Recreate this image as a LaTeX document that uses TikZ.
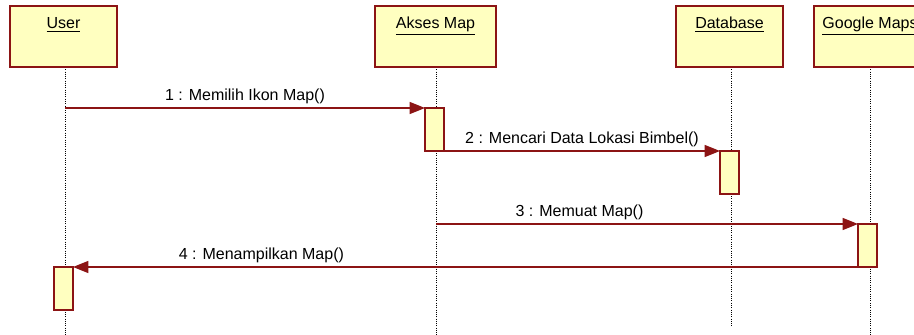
\documentclass[tikz,border=0pt]{standalone}
\usepackage{fontspec}
\setmainfont{Liberation Sans}
\usetikzlibrary{arrows.meta}
\definecolor{uborder}{RGB}{140,20,20}
\definecolor{ufill}{RGB}{255,255,192}
\tikzset{
  obj/.style={draw=uborder, fill=ufill, line width=0.9pt, minimum height=61*0.75pt, inner sep=0pt, outer sep=0pt},
  act/.style={draw=uborder, fill=ufill, line width=0.9pt, minimum width=19*0.75pt, minimum height=43*0.75pt, inner sep=0pt, outer sep=0pt},
  life/.style={densely dotted, line width=0.7pt, black},
  msg/.style={draw=uborder, line width=0.9pt, -{Triangle[length=11.5pt,width=9pt]}},
  lbl/.style={font=\fontsize{12}{14}\selectfont, inner sep=1pt},
  ttl/.style={font=\fontsize{12}{14}\selectfont, inner sep=0pt, anchor=base}
}
\begin{document}
\begin{tikzpicture}[x=0.75pt,y=-0.75pt]
\useasboundingbox (0,0) rectangle (914,335);
% lifelines
\coordinate (uTop) at (65,67); \coordinate (uBot) at (65,335);
\coordinate (aTop) at (436,67); \coordinate (aBot) at (436,335);
\coordinate (dTop) at (731,67); \coordinate (dBot) at (731,326);
\coordinate (gTop) at (870,67); \coordinate (gBot) at (870,335);
\draw[life] (uTop) -- (uBot);
\draw[life] (aTop) -- (aBot);
\draw[life] (dTop) -- (dBot);
\draw[life] (gTop) -- (gBot);
% objects
\node[obj, minimum width=107*0.75pt, anchor=north west] (user) at (10,6) {};
\node[ttl] (userT) at ([yshift=-23*0.75pt]user.north) {\underline{User}};
\node[obj, minimum width=121*0.75pt, anchor=north west] (akses) at (375,6) {};
\node[ttl] (aksesT) at ([yshift=-23*0.75pt]akses.north) {\underline{Akses Map}};
\node[obj, minimum width=107*0.75pt, anchor=north west] (db) at (676,6) {};
\node[ttl] (dbT) at ([yshift=-23*0.75pt]db.north) {\underline{Database}};
\node[obj, minimum width=112*0.75pt, anchor=north west] (gm) at (814,6) {};
\node[ttl] (gmT) at ([yshift=-23*0.75pt]gm.north) {\underline{Google Maps}};
% activations
\node[act, anchor=north] (aAct) at (434.5,108) {};
\node[act, anchor=north] (dAct) at (729.5,151) {};
\node[act, anchor=north] (gAct) at (867.5,224) {};
\node[act, anchor=north] (uAct) at (63.5,267) {};
% messages
\coordinate (m1s) at (65,108);
\draw[msg] (m1s) -- (aAct.north west) node[lbl, midway, above=2pt] (l1) {1 : Memilih Ikon Map()};
\draw[msg] (aAct.south east) -- (dAct.north west) node[lbl, midway, above=2pt] (l2) {2 : Mencari Data Lokasi Bimbel()};
\coordinate (m3s) at (436,224);
\draw[msg] (m3s) -- (gAct.north west) node[lbl, pos=0.34, above=2pt] (l3) {3 : Memuat Map()};
\draw[msg] (gAct.south west) -- (uAct.north east) node[lbl, pos=0.76, above=2pt] (l4) {4 : Menampilkan Map()};
\end{tikzpicture}
\end{document}
